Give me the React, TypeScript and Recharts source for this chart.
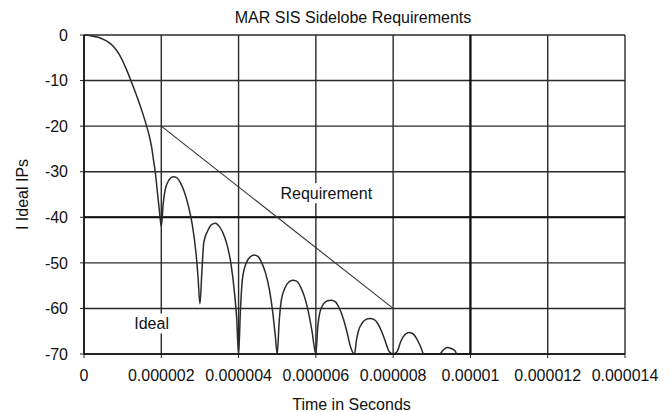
import React from 'react';
import {
  LineChart,
  Line,
  XAxis,
  YAxis,
  CartesianGrid,
  ReferenceDot,
  ReferenceLine,
} from 'recharts';

// Time axis in microseconds; tick labels are printed in seconds.
const timeMicros = [
  0, 0.1, 0.2, 0.3, 0.4, 0.5, 0.6, 0.7, 0.8, 0.9, 1.0, 1.1, 1.2, 1.3, 1.4, 1.5, 1.6, 1.7, 1.75, 1.8, 1.85, 1.9, 1.95, 2.0,
  2.05, 2.1, 2.2, 2.3, 2.4, 2.5, 2.6, 2.7, 2.8, 2.9, 2.95, 3.0,
  3.05, 3.1, 3.2, 3.3, 3.4, 3.5, 3.6, 3.7, 3.8, 3.9, 3.95, 4.0,
  4.05, 4.1, 4.2, 4.3, 4.4, 4.5, 4.6, 4.7, 4.8, 4.9, 4.95, 5.0,
  5.05, 5.1, 5.2, 5.3, 5.4, 5.5, 5.6, 5.7, 5.8, 5.9, 6.0,
  6.05, 6.1, 6.2, 6.3, 6.4, 6.5, 6.6, 6.7, 6.8, 6.9, 7.0,
  7.05, 7.1, 7.2, 7.3, 7.4, 7.5, 7.6, 7.7, 7.8, 7.9, 8.0,
  8.1, 8.2, 8.3, 8.4, 8.5, 8.6, 8.7, 8.8, 9.2,
  9.3, 9.4, 9.5, 9.6, 9.65, 10.0,
];

// Ideal compressed pulse response (dB)
const idealDb = [
  0, -0.05, -0.2, -0.4, -0.6, -0.95, -1.4, -2.0, -2.9, -4.1, -5.7, -7.6, -9.7, -11.9, -14.2, -16.7, -19.4, -22.5, -24.6, -27.5, -30.5, -34.5, -38.5, -42,
  -37, -34, -31.8, -31.1, -31.3, -32.5, -34.5, -37.5, -41.5, -48, -53, -59,
  -52, -45.5, -43, -41.6, -41.3, -42, -43.5, -46, -50, -57, -62, -70,
  -60, -53.5, -50, -48.7, -48.3, -48.6, -50, -52.3, -56, -62, -66, -70,
  -63, -58.5, -55.5, -54.2, -53.8, -54, -55.2, -57.3, -60.5, -65, -70,
  -64, -61, -59, -58.3, -58.2, -58.5, -59.8, -62, -65, -68.5, -70,
  -67, -65, -63.2, -62.4, -62.2, -62.4, -63.3, -65, -67.3, -69.5, -70,
  -69.5, -67.2, -65.8, -65.3, -65.5, -66.5, -68.2, -70, -70,
  -69.1, -68.6, -68.8, -69.3, -70, -70,
];

// Sidelobe requirement mask
const requirementMicros = [2, 8];
const requirementDb = [-20, -60];

const xTicks = [0, 2, 4, 6, 8, 10, 12, 14];
const xMinorTicks = [
  0.4, 0.8, 1.2, 1.6, 2.4, 2.8, 3.2, 3.6, 4.4, 4.8, 5.2, 5.6, 6.4, 6.8, 7.2, 7.6,
  8.4, 8.8, 9.2, 9.6, 10.4, 10.8, 11.2, 11.6, 12.4, 12.8, 13.2, 13.6,
];
const yTicks = [0, -10, -20, -30, -40, -50, -60, -70];
const yMinorTicks = [
  -2, -4, -6, -8, -12, -14, -16, -18, -22, -24, -26, -28, -32, -34, -36, -38,
  -42, -44, -46, -48, -52, -54, -56, -58, -62, -64, -66, -68,
];

const idealData = timeMicros.map((t, i) => ({ t, db: idealDb[i] }));
const requirementData = requirementMicros.map((t, i) => ({ t, db: requirementDb[i] }));

const FONT = '"Liberation Sans", Arial, sans-serif';
const INK = '#111';
const GRID = '#2a2a2a';

const formatSeconds = (v: number) => {
  if (v === 0) return '0';
  return (v * 1e-6).toFixed(6).replace(/0+$/, '');
};

const BoxedText = ({ cx, cy, text, w }: any) => (
  <g>
    <rect x={cx - w / 2} y={cy - 10} width={w} height={20} fill="#fff" />
    <text
      x={cx}
      y={cy}
      textAnchor="middle"
      dominantBaseline="central"
      fontFamily={FONT}
      fontSize={16}
      fill={INK}
    >
      {text}
    </text>
  </g>
);

export default function App() {
  return (
    <div style={{ position: 'absolute', left: 0, top: 0, width: 671, height: 412, background: '#fff' }}>
      <div
        style={{
          position: 'absolute',
          left: 0,
          width: 706,
          top: 9,
          textAlign: 'center',
          fontFamily: FONT,
          fontSize: 16,
          lineHeight: '18px',
          color: INK,
        }}
      >
        MAR SIS Sidelobe Requirements
      </div>
      <LineChart
        width={671}
        height={412}
        data={idealData}
        margin={{ top: 35, right: 46, left: 24, bottom: 18 }}
      >
        <XAxis
          xAxisId="minor"
          type="number"
          domain={[0, 14]}
          allowDataOverflow
          ticks={xMinorTicks}
          interval={0}
          mirror
          height={0}
          tick={false}
          axisLine={false}
          tickLine={{ stroke: '#222' }}
          tickSize={4}
        />
        <YAxis
          yAxisId="minor"
          type="number"
          domain={[-70, 0]}
          allowDataOverflow
          ticks={yMinorTicks}
          interval={0}
          mirror
          width={0}
          tick={false}
          axisLine={false}
          tickLine={{ stroke: '#222' }}
          tickSize={4}
        />
        <XAxis
          xAxisId="main"
          type="number"
          dataKey="t"
          domain={[0, 14]}
          ticks={xTicks}
          interval={0}
          tickFormatter={formatSeconds}
          tick={{ fontFamily: FONT, fontSize: 16, fill: INK }}
          tickLine={{ stroke: '#222' }}
          tickSize={4}
          tickMargin={12}
          axisLine={{ stroke: '#111', strokeWidth: 1.5 }}
          height={40}
          label={(props: any) => {
            const vb = props.viewBox;
            return (
              <text
                x={vb.x + vb.width / 2 - 3}
                y={404}
                textAnchor="middle"
                dominantBaseline="central"
                fontFamily={FONT}
                fontSize={16}
                fill={INK}
              >
                Time in Seconds
              </text>
            );
          }}
        />
        <YAxis
          yAxisId="main"
          type="number"
          domain={[-70, 0]}
          ticks={yTicks}
          interval={0}
          tick={{ fontFamily: FONT, fontSize: 16, fill: INK }}
          tickLine={{ stroke: '#222' }}
          tickSize={4}
          tickMargin={12}
          axisLine={{ stroke: '#111', strokeWidth: 1.5 }}
          width={60}
          label={(props: any) => {
            const vb = props.viewBox;
            const cx = 22;
            const cy = vb.y + vb.height / 2;
            return (
              <text
                x={cx}
                y={cy}
                transform={`rotate(-90, ${cx}, ${cy})`}
                textAnchor="middle"
                dominantBaseline="central"
                fontFamily={FONT}
                fontSize={16}
                fill={INK}
              >
                I Ideal IPs
              </text>
            );
          }}
        />
        <CartesianGrid xAxisId="main" yAxisId="main" stroke={GRID} strokeWidth={1.4} />
        <ReferenceLine xAxisId="main" yAxisId="main" x={10} stroke="#111" strokeWidth={2.2} />
        <ReferenceLine xAxisId="main" yAxisId="main" y={-40} stroke="#111" strokeWidth={2} />
        <ReferenceDot
          xAxisId="main"
          yAxisId="main"
          x={6.27}
          y={-34.7}
          r={0}
          shape={(p: any) => <BoxedText cx={p.cx} cy={p.cy} text="Requirement" w={96} />}
        />
        <ReferenceDot
          xAxisId="main"
          yAxisId="main"
          x={1.75}
          y={-63.3}
          r={0}
          shape={(p: any) => <BoxedText cx={p.cx} cy={p.cy} text="Ideal" w={40} />}
        />
        <Line
          xAxisId="main"
          yAxisId="main"
          data={requirementData}
          dataKey="db"
          type="linear"
          stroke="#333"
          strokeWidth={1.1}
          dot={false}
          isAnimationActive={false}
        />
        <Line
          xAxisId="main"
          yAxisId="main"
          dataKey="db"
          type="monotone"
          stroke="#2a2a2a"
          strokeWidth={1.5}
          dot={false}
          isAnimationActive={false}
        />
      </LineChart>
    </div>
  );
}
